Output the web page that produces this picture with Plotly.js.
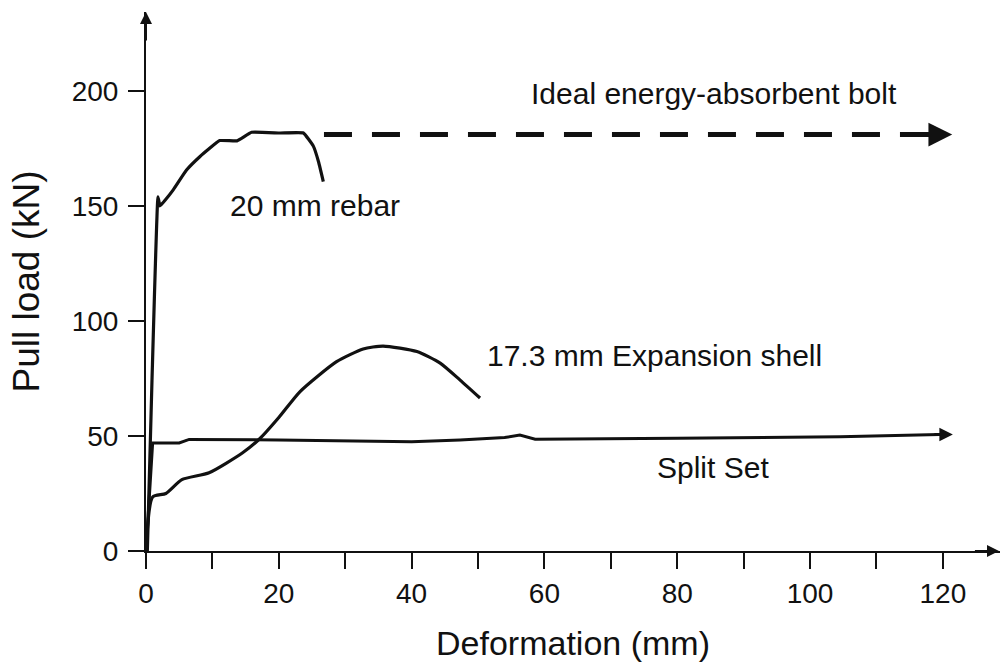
<!DOCTYPE html>
<html>
<head>
<meta charset="utf-8">
<script src="https://cdn.plot.ly/plotly-3.0.1.min.js"></script>
<style>html,body{margin:0;padding:0;background:#fff;}#chart{width:1000px;height:666px;}</style>
</head>
<body>
<div id="chart"></div>
<script>
// Data (Deformation mm vs Pull load kN)
const rebarX = [0.2, 0.9, 1.8, 2.1, 2.9, 4.1, 6.1, 8.1, 11.1, 13.7, 15.9, 20.2, 23.7, 25.2, 26.0, 26.7];
const rebarY = [0, 74, 154, 150, 152.6, 157, 165.6, 171.4, 178.4, 178.3, 182, 181.7, 181.7, 176, 169, 160.6];

const shellX = [0, 1, 3, 5.4, 9.5, 14.5, 17.2, 20, 23.2, 28.7, 32.7, 35.7, 40.8, 44.3, 47.3, 50.3];
const shellY = [0, 23.5, 25, 31, 34, 42.6, 49, 58, 69.3, 82.3, 87.8, 89.1, 86.7, 81.7, 74.3, 66.5];

const splitX = [0, 1, 5, 6.5, 20, 40, 47.3, 54, 56.3, 58.6, 80, 104.5, 119.5];
const splitY = [0, 47, 47, 48.5, 48.3, 47.5, 48.3, 49.3, 50.4, 48.6, 49, 49.7, 50.6];

const idealX = [26.8, 118.3];
const idealY = [181, 181];

const xTickVals = [0, 10, 20, 30, 40, 50, 60, 70, 80, 90, 100, 110, 120];
const xTickText = ['0', '', '20', '', '40', '', '60', '', '80', '', '100', '', '120'];
const yTickVals = [0, 50, 100, 150, 200];
const yTickText = ['0', '50', '100', '150', '200'];

const labels = ['Ideal energy-absorbent bolt', '20 mm rebar', '17.3 mm Expansion shell', 'Split Set'];
const labelX = [85.6, 25.5, 76.5, 85.4];
const labelY = [198.7, 150, 85.2, 36.5];

const INK = '#111';
const FONT = 'Liberation Sans, Arial, Helvetica, sans-serif';

const traces = [
  {x: rebarX, y: rebarY, mode: 'lines', line: {color: INK, width: 3.2, shape: 'spline', smoothing: 0.3}, name: '20 mm rebar', hoverinfo: 'skip'},
  {x: shellX, y: shellY, mode: 'lines', line: {color: INK, width: 3.2, shape: 'spline', smoothing: 0.6}, name: '17.3 mm Expansion shell', hoverinfo: 'skip'},
  {x: splitX, y: splitY, mode: 'lines', line: {color: INK, width: 3}, name: 'Split Set', hoverinfo: 'skip'},
  {x: idealX, y: idealY, mode: 'lines', line: {color: INK, width: 5, dash: '28px,20px'}, name: 'Ideal energy-absorbent bolt', hoverinfo: 'skip'}
];

const annotations = labels.map((t, i) => ({
  x: labelX[i], y: labelY[i], xref: 'x', yref: 'y', text: t, showarrow: false,
  xanchor: 'center', yanchor: 'middle', font: {family: FONT, size: 30, color: INK}
}));

// arrowheads: end of ideal line, end of split set, axes
annotations.push({x: idealX[1] + 3.1, y: idealY[1], xref: 'x', yref: 'y', ax: idealX[1] - 1, ay: idealY[1], axref: 'x', ayref: 'y',
  text: '', showarrow: true, arrowhead: 2, arrowsize: 0.95, arrowwidth: 5, arrowcolor: INK});
annotations.push({x: splitX[splitX.length - 1] + 2, y: splitY[splitY.length - 1], xref: 'x', yref: 'y',
  ax: splitX[splitX.length - 1] - 1, ay: splitY[splitY.length - 1], axref: 'x', ayref: 'y',
  text: '', showarrow: true, arrowhead: 2, arrowsize: 0.9, arrowwidth: 3, arrowcolor: INK});
annotations.push({x: 0, y: 1, xref: 'x', yref: 'paper', ax: 0, ay: 30, text: '', showarrow: true,
  arrowhead: 2, arrowsize: 1.2, arrowwidth: 2, arrowcolor: INK});
annotations.push({x: 1.004, y: 0, xref: 'paper', yref: 'y', ax: -30, ay: 0, text: '', showarrow: true,
  arrowhead: 2, arrowsize: 1.2, arrowwidth: 2, arrowcolor: INK});

const layout = {
  width: 1000, height: 666,
  margin: {l: 146, r: 0, t: 12, b: 115},
  paper_bgcolor: '#fff', plot_bgcolor: '#fff',
  showlegend: false,
  font: {family: FONT, color: INK},
  xaxis: {
    range: [0, 128.6], showgrid: false, zeroline: false,
    showline: true, linecolor: INK, linewidth: 2,
    ticks: 'outside', ticklen: 16, tickwidth: 2, tickcolor: INK,
    tickvals: xTickVals, ticktext: xTickText,
    tickfont: {family: FONT, size: 28, color: INK},
    title: {text: 'Deformation (mm)', font: {family: FONT, size: 34, color: INK}, standoff: 24},
    automargin: false
  },
  yaxis: {
    range: [0, 234.3], showgrid: false, zeroline: false,
    showline: true, linecolor: INK, linewidth: 2,
    ticks: 'outside', ticklen: 16, tickwidth: 2, tickcolor: INK,
    ticklabelstandoff: 4,
    tickvals: yTickVals, ticktext: yTickText,
    tickfont: {family: FONT, size: 28, color: INK},
    title: {text: 'Pull load (kN)', font: {family: FONT, size: 37, color: INK}, standoff: 21},
    automargin: false
  },
  annotations: annotations
};

Plotly.newPlot('chart', traces, layout, {staticPlot: true, displayModeBar: false});
</script>
</body>
</html>
